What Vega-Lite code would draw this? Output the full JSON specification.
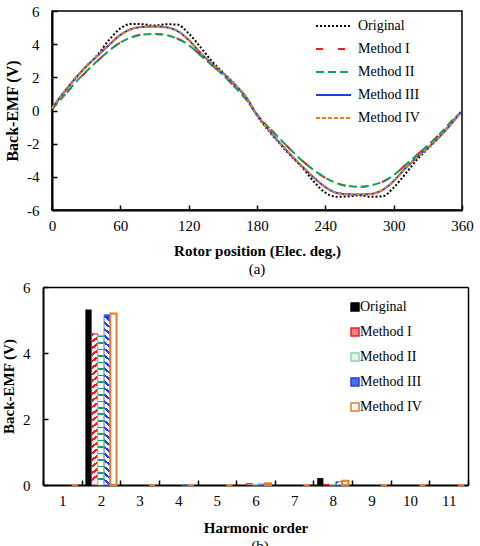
{
  "$schema": "https://vega.github.io/schema/vega-lite/v6.json",
  "padding": {"left": 1, "top": 3, "right": 0, "bottom": 0},
  "datasets": {
    "emf": [
      {"deg": 0, "s": "Original", "v": 0.1}, {"deg": 10, "s": "Original", "v": 1.05}, {"deg": 20, "s": "Original", "v": 1.9}, {"deg": 30, "s": "Original", "v": 2.65}, {"deg": 40, "s": "Original", "v": 3.35}, {"deg": 50, "s": "Original", "v": 4.25}, {"deg": 60, "s": "Original", "v": 4.95}, {"deg": 70, "s": "Original", "v": 5.22}, {"deg": 80, "s": "Original", "v": 5.2}, {"deg": 90, "s": "Original", "v": 5.12}, {"deg": 100, "s": "Original", "v": 5.2}, {"deg": 110, "s": "Original", "v": 5.18}, {"deg": 120, "s": "Original", "v": 4.65}, {"deg": 130, "s": "Original", "v": 3.85}, {"deg": 140, "s": "Original", "v": 3.0}, {"deg": 150, "s": "Original", "v": 2.3}, {"deg": 160, "s": "Original", "v": 1.6}, {"deg": 170, "s": "Original", "v": 0.8}, {"deg": 180, "s": "Original", "v": -0.3}, {"deg": 190, "s": "Original", "v": -1.2}, {"deg": 200, "s": "Original", "v": -2.0}, {"deg": 210, "s": "Original", "v": -2.75}, {"deg": 220, "s": "Original", "v": -3.45}, {"deg": 230, "s": "Original", "v": -4.3}, {"deg": 240, "s": "Original", "v": -4.95}, {"deg": 250, "s": "Original", "v": -5.2}, {"deg": 260, "s": "Original", "v": -5.18}, {"deg": 270, "s": "Original", "v": -5.12}, {"deg": 280, "s": "Original", "v": -5.2}, {"deg": 290, "s": "Original", "v": -5.18}, {"deg": 300, "s": "Original", "v": -4.65}, {"deg": 310, "s": "Original", "v": -3.85}, {"deg": 320, "s": "Original", "v": -3.0}, {"deg": 330, "s": "Original", "v": -2.3}, {"deg": 340, "s": "Original", "v": -1.6}, {"deg": 350, "s": "Original", "v": -0.8}, {"deg": 359, "s": "Original", "v": -0.1},
      {"deg": 0, "s": "Method I", "v": 0.1}, {"deg": 10, "s": "Method I", "v": 0.83}, {"deg": 20, "s": "Method I", "v": 1.63}, {"deg": 30, "s": "Method I", "v": 2.34}, {"deg": 40, "s": "Method I", "v": 3.0}, {"deg": 50, "s": "Method I", "v": 3.6}, {"deg": 60, "s": "Method I", "v": 4.1}, {"deg": 70, "s": "Method I", "v": 4.43}, {"deg": 80, "s": "Method I", "v": 4.59}, {"deg": 90, "s": "Method I", "v": 4.62}, {"deg": 100, "s": "Method I", "v": 4.56}, {"deg": 110, "s": "Method I", "v": 4.34}, {"deg": 120, "s": "Method I", "v": 3.96}, {"deg": 130, "s": "Method I", "v": 3.36}, {"deg": 140, "s": "Method I", "v": 2.76}, {"deg": 150, "s": "Method I", "v": 2.16}, {"deg": 160, "s": "Method I", "v": 1.46}, {"deg": 170, "s": "Method I", "v": 0.71}, {"deg": 180, "s": "Method I", "v": -0.24}, {"deg": 190, "s": "Method I", "v": -1.0}, {"deg": 200, "s": "Method I", "v": -1.7}, {"deg": 210, "s": "Method I", "v": -2.4}, {"deg": 220, "s": "Method I", "v": -3.05}, {"deg": 230, "s": "Method I", "v": -3.6}, {"deg": 240, "s": "Method I", "v": -4.06}, {"deg": 250, "s": "Method I", "v": -4.39}, {"deg": 260, "s": "Method I", "v": -4.56}, {"deg": 270, "s": "Method I", "v": -4.6}, {"deg": 280, "s": "Method I", "v": -4.53}, {"deg": 290, "s": "Method I", "v": -4.31}, {"deg": 300, "s": "Method I", "v": -3.9}, {"deg": 310, "s": "Method I", "v": -3.3}, {"deg": 320, "s": "Method I", "v": -2.7}, {"deg": 330, "s": "Method I", "v": -2.1}, {"deg": 340, "s": "Method I", "v": -1.45}, {"deg": 350, "s": "Method I", "v": -0.7}, {"deg": 359, "s": "Method I", "v": -0.1},
      {"deg": 0, "s": "Method II", "v": 0.1}, {"deg": 10, "s": "Method II", "v": 0.85}, {"deg": 20, "s": "Method II", "v": 1.65}, {"deg": 30, "s": "Method II", "v": 2.35}, {"deg": 40, "s": "Method II", "v": 3.0}, {"deg": 50, "s": "Method II", "v": 3.6}, {"deg": 60, "s": "Method II", "v": 4.1}, {"deg": 70, "s": "Method II", "v": 4.42}, {"deg": 80, "s": "Method II", "v": 4.58}, {"deg": 90, "s": "Method II", "v": 4.62}, {"deg": 100, "s": "Method II", "v": 4.55}, {"deg": 110, "s": "Method II", "v": 4.33}, {"deg": 120, "s": "Method II", "v": 3.95}, {"deg": 130, "s": "Method II", "v": 3.35}, {"deg": 140, "s": "Method II", "v": 2.75}, {"deg": 150, "s": "Method II", "v": 2.15}, {"deg": 160, "s": "Method II", "v": 1.45}, {"deg": 170, "s": "Method II", "v": 0.7}, {"deg": 180, "s": "Method II", "v": -0.25}, {"deg": 190, "s": "Method II", "v": -1.0}, {"deg": 200, "s": "Method II", "v": -1.7}, {"deg": 210, "s": "Method II", "v": -2.4}, {"deg": 220, "s": "Method II", "v": -3.05}, {"deg": 230, "s": "Method II", "v": -3.6}, {"deg": 240, "s": "Method II", "v": -4.05}, {"deg": 250, "s": "Method II", "v": -4.38}, {"deg": 260, "s": "Method II", "v": -4.55}, {"deg": 270, "s": "Method II", "v": -4.6}, {"deg": 280, "s": "Method II", "v": -4.52}, {"deg": 290, "s": "Method II", "v": -4.3}, {"deg": 300, "s": "Method II", "v": -3.9}, {"deg": 310, "s": "Method II", "v": -3.3}, {"deg": 320, "s": "Method II", "v": -2.7}, {"deg": 330, "s": "Method II", "v": -2.1}, {"deg": 340, "s": "Method II", "v": -1.45}, {"deg": 350, "s": "Method II", "v": -0.7}, {"deg": 359, "s": "Method II", "v": -0.1},
      {"deg": 0, "s": "Method III", "v": 0.15}, {"deg": 10, "s": "Method III", "v": 1.05}, {"deg": 20, "s": "Method III", "v": 1.9}, {"deg": 30, "s": "Method III", "v": 2.65}, {"deg": 40, "s": "Method III", "v": 3.3}, {"deg": 50, "s": "Method III", "v": 3.95}, {"deg": 60, "s": "Method III", "v": 4.55}, {"deg": 70, "s": "Method III", "v": 4.92}, {"deg": 80, "s": "Method III", "v": 5.04}, {"deg": 90, "s": "Method III", "v": 5.07}, {"deg": 100, "s": "Method III", "v": 5.02}, {"deg": 110, "s": "Method III", "v": 4.8}, {"deg": 120, "s": "Method III", "v": 4.25}, {"deg": 130, "s": "Method III", "v": 3.5}, {"deg": 140, "s": "Method III", "v": 2.85}, {"deg": 150, "s": "Method III", "v": 2.25}, {"deg": 160, "s": "Method III", "v": 1.6}, {"deg": 170, "s": "Method III", "v": 0.85}, {"deg": 180, "s": "Method III", "v": -0.25}, {"deg": 190, "s": "Method III", "v": -1.15}, {"deg": 200, "s": "Method III", "v": -1.95}, {"deg": 210, "s": "Method III", "v": -2.7}, {"deg": 220, "s": "Method III", "v": -3.4}, {"deg": 230, "s": "Method III", "v": -4.05}, {"deg": 240, "s": "Method III", "v": -4.62}, {"deg": 250, "s": "Method III", "v": -4.97}, {"deg": 260, "s": "Method III", "v": -5.05}, {"deg": 270, "s": "Method III", "v": -5.07}, {"deg": 280, "s": "Method III", "v": -5.03}, {"deg": 290, "s": "Method III", "v": -4.8}, {"deg": 300, "s": "Method III", "v": -4.25}, {"deg": 310, "s": "Method III", "v": -3.5}, {"deg": 320, "s": "Method III", "v": -2.85}, {"deg": 330, "s": "Method III", "v": -2.25}, {"deg": 340, "s": "Method III", "v": -1.6}, {"deg": 350, "s": "Method III", "v": -0.85}, {"deg": 359, "s": "Method III", "v": -0.1},
      {"deg": 0, "s": "Method IV", "v": 0.15}, {"deg": 10, "s": "Method IV", "v": 1.07}, {"deg": 20, "s": "Method IV", "v": 1.92}, {"deg": 30, "s": "Method IV", "v": 2.66}, {"deg": 40, "s": "Method IV", "v": 3.32}, {"deg": 50, "s": "Method IV", "v": 3.97}, {"deg": 60, "s": "Method IV", "v": 4.56}, {"deg": 70, "s": "Method IV", "v": 4.93}, {"deg": 80, "s": "Method IV", "v": 5.05}, {"deg": 90, "s": "Method IV", "v": 5.08}, {"deg": 100, "s": "Method IV", "v": 5.03}, {"deg": 110, "s": "Method IV", "v": 4.81}, {"deg": 120, "s": "Method IV", "v": 4.27}, {"deg": 130, "s": "Method IV", "v": 3.52}, {"deg": 140, "s": "Method IV", "v": 2.86}, {"deg": 150, "s": "Method IV", "v": 2.26}, {"deg": 160, "s": "Method IV", "v": 1.61}, {"deg": 170, "s": "Method IV", "v": 0.86}, {"deg": 180, "s": "Method IV", "v": -0.24}, {"deg": 190, "s": "Method IV", "v": -1.14}, {"deg": 200, "s": "Method IV", "v": -1.94}, {"deg": 210, "s": "Method IV", "v": -2.69}, {"deg": 220, "s": "Method IV", "v": -3.39}, {"deg": 230, "s": "Method IV", "v": -4.04}, {"deg": 240, "s": "Method IV", "v": -4.61}, {"deg": 250, "s": "Method IV", "v": -4.96}, {"deg": 260, "s": "Method IV", "v": -5.05}, {"deg": 270, "s": "Method IV", "v": -5.07}, {"deg": 280, "s": "Method IV", "v": -5.03}, {"deg": 290, "s": "Method IV", "v": -4.8}, {"deg": 300, "s": "Method IV", "v": -4.26}, {"deg": 310, "s": "Method IV", "v": -3.51}, {"deg": 320, "s": "Method IV", "v": -2.86}, {"deg": 330, "s": "Method IV", "v": -2.26}, {"deg": 340, "s": "Method IV", "v": -1.61}, {"deg": 350, "s": "Method IV", "v": -0.86}, {"deg": 359, "s": "Method IV", "v": -0.12}
    ],
    "harm": [
      {"h": 1, "m": "Original", "v": 0}, {"h": 1, "m": "Method I", "v": 0}, {"h": 1, "m": "Method II", "v": 0}, {"h": 1, "m": "Method III", "v": 0}, {"h": 1, "m": "Method IV", "v": 0},
      {"h": 2, "m": "Original", "v": 5.32}, {"h": 2, "m": "Method I", "v": 4.58}, {"h": 2, "m": "Method II", "v": 4.53}, {"h": 2, "m": "Method III", "v": 5.16}, {"h": 2, "m": "Method IV", "v": 5.2},
      {"h": 3, "m": "Original", "v": 0}, {"h": 3, "m": "Method I", "v": 0}, {"h": 3, "m": "Method II", "v": 0}, {"h": 3, "m": "Method III", "v": 0}, {"h": 3, "m": "Method IV", "v": 0},
      {"h": 4, "m": "Original", "v": 0}, {"h": 4, "m": "Method I", "v": 0}, {"h": 4, "m": "Method II", "v": 0}, {"h": 4, "m": "Method III", "v": 0.01}, {"h": 4, "m": "Method IV", "v": 0},
      {"h": 5, "m": "Original", "v": 0}, {"h": 5, "m": "Method I", "v": 0}, {"h": 5, "m": "Method II", "v": 0}, {"h": 5, "m": "Method III", "v": 0}, {"h": 5, "m": "Method IV", "v": 0},
      {"h": 6, "m": "Original", "v": 0}, {"h": 6, "m": "Method I", "v": 0.04}, {"h": 6, "m": "Method II", "v": 0.02}, {"h": 6, "m": "Method III", "v": 0.03}, {"h": 6, "m": "Method IV", "v": 0.05},
      {"h": 7, "m": "Original", "v": 0}, {"h": 7, "m": "Method I", "v": 0}, {"h": 7, "m": "Method II", "v": 0}, {"h": 7, "m": "Method III", "v": 0}, {"h": 7, "m": "Method IV", "v": 0},
      {"h": 8, "m": "Original", "v": 0.21}, {"h": 8, "m": "Method I", "v": 0.02}, {"h": 8, "m": "Method II", "v": 0.02}, {"h": 8, "m": "Method III", "v": 0.1}, {"h": 8, "m": "Method IV", "v": 0.13},
      {"h": 9, "m": "Original", "v": 0}, {"h": 9, "m": "Method I", "v": 0}, {"h": 9, "m": "Method II", "v": 0}, {"h": 9, "m": "Method III", "v": 0}, {"h": 9, "m": "Method IV", "v": 0},
      {"h": 10, "m": "Original", "v": 0}, {"h": 10, "m": "Method I", "v": 0}, {"h": 10, "m": "Method II", "v": 0}, {"h": 10, "m": "Method III", "v": 0}, {"h": 10, "m": "Method IV", "v": 0},
      {"h": 11, "m": "Original", "v": 0}, {"h": 11, "m": "Method I", "v": 0}, {"h": 11, "m": "Method II", "v": 0}, {"h": 11, "m": "Method III", "v": 0}, {"h": 11, "m": "Method IV", "v": 0}
    ]
  },
  "vconcat": [
    {
      "width": 410,
      "height": 199,
      "data": {"name": "emf"},
      "title": {"text": "(a)", "orient": "bottom", "offset": 4},
      "mark": {"type": "line", "strokeWidth": 2, "interpolate": "monotone"},
      "encoding": {
        "x": {"field": "deg", "type": "quantitative", "scale": {"domain": [0, 360], "nice": false}, "axis": {"values": [0, 60, 120, 180, 240, 300, 360], "title": "Rotor position (Elec. deg.)", "titlePadding": 10}},
        "y": {"field": "v", "type": "quantitative", "scale": {"domain": [-6, 6], "nice": false}, "axis": {"values": [-6, -4, -2, 0, 2, 4, 6], "labelExpr": "'' + datum.value", "labelPadding": 18, "title": "Back-EMF (V)", "titleFontSize": 16, "titlePadding": 6}},
        "color": {"field": "s", "type": "nominal", "scale": {"domain": ["Original", "Method I", "Method II", "Method III", "Method IV"], "range": ["#000000", "#ee1c25", "#13a055", "#1f3fe0", "#e57c28"]}, "legend": {"title": null, "orient": "none", "legendX": 263, "legendY": 7, "symbolType": "M-1,0H4", "symbolSize": 196, "symbolStrokeWidth": 2, "rowPadding": 8, "labelOffset": 27}},
        "strokeDash": {"field": "s", "type": "nominal", "scale": {"domain": ["Original", "Method I", "Method II", "Method III", "Method IV"], "range": [[2, 2], [7, 15], [8, 4], [1, 0], [4, 2]]}, "legend": {"title": null, "orient": "none", "legendX": 263, "legendY": 7, "symbolType": "M-1,0H4", "symbolSize": 196, "symbolStrokeWidth": 2, "rowPadding": 8, "labelOffset": 27}}
      }
    },
    {
      "width": 416,
      "height": 198,
      "view": {"stroke": null},
      "data": {"name": "harm"},
      "title": {"text": "(b)", "orient": "bottom", "offset": 4},
      "encoding": {
        "x": {"field": "h", "type": "ordinal", "scale": {"range": [-9, 416], "paddingInner": 0, "paddingOuter": 0}, "axis": {"title": "Harmonic order", "labelAngle": 0, "tickBand": "extent", "titlePadding": 12}},
        "y": {"field": "v", "type": "quantitative", "scale": {"domain": [0, 6], "nice": false}, "axis": {"values": [0, 2, 4, 6], "labelPadding": 18, "title": "Back-EMF (V)", "titlePadding": 6, "offset": 9}}
      },
      "layer": [
        {
          "mark": {"type": "bar"},
          "encoding": {
            "xOffset": {"field": "m", "type": "nominal", "scale": {"domain": ["Original", "Method I", "Method II", "Method III", "Method IV"], "paddingInner": 0, "paddingOuter": 0.6}},
            "fill": {
              "condition": [
                {"test": "datum.m === 'Original'", "value": "#000000"},
                {"test": "datum.m === 'Method I'", "value": {"gradient": "linear", "x1": 0, "y1": 0, "x2": 0.03, "y2": 1, "stops": [
                  {"offset": 0, "color": "#ee1c25"}, {"offset": 0.0174, "color": "#ee1c25"}, {"offset": 0.0174, "color": "#ffffff"}, {"offset": 0.0435, "color": "#ffffff"},
                  {"offset": 0.0435, "color": "#ee1c25"}, {"offset": 0.0609, "color": "#ee1c25"}, {"offset": 0.0609, "color": "#ffffff"}, {"offset": 0.087, "color": "#ffffff"},
                  {"offset": 0.087, "color": "#ee1c25"}, {"offset": 0.1043, "color": "#ee1c25"}, {"offset": 0.1043, "color": "#ffffff"}, {"offset": 0.1304, "color": "#ffffff"},
                  {"offset": 0.1304, "color": "#ee1c25"}, {"offset": 0.1478, "color": "#ee1c25"}, {"offset": 0.1478, "color": "#ffffff"}, {"offset": 0.1739, "color": "#ffffff"},
                  {"offset": 0.1739, "color": "#ee1c25"}, {"offset": 0.1913, "color": "#ee1c25"}, {"offset": 0.1913, "color": "#ffffff"}, {"offset": 0.2174, "color": "#ffffff"},
                  {"offset": 0.2174, "color": "#ee1c25"}, {"offset": 0.2348, "color": "#ee1c25"}, {"offset": 0.2348, "color": "#ffffff"}, {"offset": 0.2609, "color": "#ffffff"},
                  {"offset": 0.2609, "color": "#ee1c25"}, {"offset": 0.2783, "color": "#ee1c25"}, {"offset": 0.2783, "color": "#ffffff"}, {"offset": 0.3043, "color": "#ffffff"},
                  {"offset": 0.3043, "color": "#ee1c25"}, {"offset": 0.3217, "color": "#ee1c25"}, {"offset": 0.3217, "color": "#ffffff"}, {"offset": 0.3478, "color": "#ffffff"},
                  {"offset": 0.3478, "color": "#ee1c25"}, {"offset": 0.3652, "color": "#ee1c25"}, {"offset": 0.3652, "color": "#ffffff"}, {"offset": 0.3913, "color": "#ffffff"},
                  {"offset": 0.3913, "color": "#ee1c25"}, {"offset": 0.4087, "color": "#ee1c25"}, {"offset": 0.4087, "color": "#ffffff"}, {"offset": 0.4348, "color": "#ffffff"},
                  {"offset": 0.4348, "color": "#ee1c25"}, {"offset": 0.4522, "color": "#ee1c25"}, {"offset": 0.4522, "color": "#ffffff"}, {"offset": 0.4783, "color": "#ffffff"},
                  {"offset": 0.4783, "color": "#ee1c25"}, {"offset": 0.4957, "color": "#ee1c25"}, {"offset": 0.4957, "color": "#ffffff"}, {"offset": 0.5217, "color": "#ffffff"},
                  {"offset": 0.5217, "color": "#ee1c25"}, {"offset": 0.5391, "color": "#ee1c25"}, {"offset": 0.5391, "color": "#ffffff"}, {"offset": 0.5652, "color": "#ffffff"},
                  {"offset": 0.5652, "color": "#ee1c25"}, {"offset": 0.5826, "color": "#ee1c25"}, {"offset": 0.5826, "color": "#ffffff"}, {"offset": 0.6087, "color": "#ffffff"},
                  {"offset": 0.6087, "color": "#ee1c25"}, {"offset": 0.6261, "color": "#ee1c25"}, {"offset": 0.6261, "color": "#ffffff"}, {"offset": 0.6522, "color": "#ffffff"},
                  {"offset": 0.6522, "color": "#ee1c25"}, {"offset": 0.6696, "color": "#ee1c25"}, {"offset": 0.6696, "color": "#ffffff"}, {"offset": 0.6957, "color": "#ffffff"},
                  {"offset": 0.6957, "color": "#ee1c25"}, {"offset": 0.713, "color": "#ee1c25"}, {"offset": 0.713, "color": "#ffffff"}, {"offset": 0.7391, "color": "#ffffff"},
                  {"offset": 0.7391, "color": "#ee1c25"}, {"offset": 0.7565, "color": "#ee1c25"}, {"offset": 0.7565, "color": "#ffffff"}, {"offset": 0.7826, "color": "#ffffff"},
                  {"offset": 0.7826, "color": "#ee1c25"}, {"offset": 0.8, "color": "#ee1c25"}, {"offset": 0.8, "color": "#ffffff"}, {"offset": 0.8261, "color": "#ffffff"},
                  {"offset": 0.8261, "color": "#ee1c25"}, {"offset": 0.8435, "color": "#ee1c25"}, {"offset": 0.8435, "color": "#ffffff"}, {"offset": 0.8696, "color": "#ffffff"},
                  {"offset": 0.8696, "color": "#ee1c25"}, {"offset": 0.887, "color": "#ee1c25"}, {"offset": 0.887, "color": "#ffffff"}, {"offset": 0.913, "color": "#ffffff"},
                  {"offset": 0.913, "color": "#ee1c25"}, {"offset": 0.9304, "color": "#ee1c25"}, {"offset": 0.9304, "color": "#ffffff"}, {"offset": 0.9565, "color": "#ffffff"},
                  {"offset": 0.9565, "color": "#ee1c25"}, {"offset": 0.9739, "color": "#ee1c25"}, {"offset": 0.9739, "color": "#ffffff"}, {"offset": 1, "color": "#ffffff"}
                ]}},
                {"test": "datum.m === 'Method II'", "value": {"gradient": "linear", "x1": 0, "y1": 0, "x2": 0, "y2": 1, "stops": [
                  {"offset": 0, "color": "#13a055"}, {"offset": 0.0109, "color": "#13a055"}, {"offset": 0.0109, "color": "#ffffff"}, {"offset": 0.0435, "color": "#ffffff"},
                  {"offset": 0.0435, "color": "#13a055"}, {"offset": 0.0543, "color": "#13a055"}, {"offset": 0.0543, "color": "#ffffff"}, {"offset": 0.087, "color": "#ffffff"},
                  {"offset": 0.087, "color": "#13a055"}, {"offset": 0.0978, "color": "#13a055"}, {"offset": 0.0978, "color": "#ffffff"}, {"offset": 0.1304, "color": "#ffffff"},
                  {"offset": 0.1304, "color": "#13a055"}, {"offset": 0.1413, "color": "#13a055"}, {"offset": 0.1413, "color": "#ffffff"}, {"offset": 0.1739, "color": "#ffffff"},
                  {"offset": 0.1739, "color": "#13a055"}, {"offset": 0.1848, "color": "#13a055"}, {"offset": 0.1848, "color": "#ffffff"}, {"offset": 0.2174, "color": "#ffffff"},
                  {"offset": 0.2174, "color": "#13a055"}, {"offset": 0.2283, "color": "#13a055"}, {"offset": 0.2283, "color": "#ffffff"}, {"offset": 0.2609, "color": "#ffffff"},
                  {"offset": 0.2609, "color": "#13a055"}, {"offset": 0.2717, "color": "#13a055"}, {"offset": 0.2717, "color": "#ffffff"}, {"offset": 0.3043, "color": "#ffffff"},
                  {"offset": 0.3043, "color": "#13a055"}, {"offset": 0.3152, "color": "#13a055"}, {"offset": 0.3152, "color": "#ffffff"}, {"offset": 0.3478, "color": "#ffffff"},
                  {"offset": 0.3478, "color": "#13a055"}, {"offset": 0.3587, "color": "#13a055"}, {"offset": 0.3587, "color": "#ffffff"}, {"offset": 0.3913, "color": "#ffffff"},
                  {"offset": 0.3913, "color": "#13a055"}, {"offset": 0.4022, "color": "#13a055"}, {"offset": 0.4022, "color": "#ffffff"}, {"offset": 0.4348, "color": "#ffffff"},
                  {"offset": 0.4348, "color": "#13a055"}, {"offset": 0.4457, "color": "#13a055"}, {"offset": 0.4457, "color": "#ffffff"}, {"offset": 0.4783, "color": "#ffffff"},
                  {"offset": 0.4783, "color": "#13a055"}, {"offset": 0.4891, "color": "#13a055"}, {"offset": 0.4891, "color": "#ffffff"}, {"offset": 0.5217, "color": "#ffffff"},
                  {"offset": 0.5217, "color": "#13a055"}, {"offset": 0.5326, "color": "#13a055"}, {"offset": 0.5326, "color": "#ffffff"}, {"offset": 0.5652, "color": "#ffffff"},
                  {"offset": 0.5652, "color": "#13a055"}, {"offset": 0.5761, "color": "#13a055"}, {"offset": 0.5761, "color": "#ffffff"}, {"offset": 0.6087, "color": "#ffffff"},
                  {"offset": 0.6087, "color": "#13a055"}, {"offset": 0.6196, "color": "#13a055"}, {"offset": 0.6196, "color": "#ffffff"}, {"offset": 0.6522, "color": "#ffffff"},
                  {"offset": 0.6522, "color": "#13a055"}, {"offset": 0.663, "color": "#13a055"}, {"offset": 0.663, "color": "#ffffff"}, {"offset": 0.6957, "color": "#ffffff"},
                  {"offset": 0.6957, "color": "#13a055"}, {"offset": 0.7065, "color": "#13a055"}, {"offset": 0.7065, "color": "#ffffff"}, {"offset": 0.7391, "color": "#ffffff"},
                  {"offset": 0.7391, "color": "#13a055"}, {"offset": 0.75, "color": "#13a055"}, {"offset": 0.75, "color": "#ffffff"}, {"offset": 0.7826, "color": "#ffffff"},
                  {"offset": 0.7826, "color": "#13a055"}, {"offset": 0.7935, "color": "#13a055"}, {"offset": 0.7935, "color": "#ffffff"}, {"offset": 0.8261, "color": "#ffffff"},
                  {"offset": 0.8261, "color": "#13a055"}, {"offset": 0.837, "color": "#13a055"}, {"offset": 0.837, "color": "#ffffff"}, {"offset": 0.8696, "color": "#ffffff"},
                  {"offset": 0.8696, "color": "#13a055"}, {"offset": 0.8804, "color": "#13a055"}, {"offset": 0.8804, "color": "#ffffff"}, {"offset": 0.913, "color": "#ffffff"},
                  {"offset": 0.913, "color": "#13a055"}, {"offset": 0.9239, "color": "#13a055"}, {"offset": 0.9239, "color": "#ffffff"}, {"offset": 0.9565, "color": "#ffffff"},
                  {"offset": 0.9565, "color": "#13a055"}, {"offset": 0.9674, "color": "#13a055"}, {"offset": 0.9674, "color": "#ffffff"}, {"offset": 1, "color": "#ffffff"}
                ]}},
                {"test": "datum.m === 'Method III'", "value": {"gradient": "linear", "x1": 0.03, "y1": 0, "x2": 0, "y2": 1, "stops": [
                  {"offset": 0, "color": "#1f3fe0"}, {"offset": 0.0154, "color": "#1f3fe0"}, {"offset": 0.0154, "color": "#ffffff"}, {"offset": 0.0385, "color": "#ffffff"},
                  {"offset": 0.0385, "color": "#1f3fe0"}, {"offset": 0.0538, "color": "#1f3fe0"}, {"offset": 0.0538, "color": "#ffffff"}, {"offset": 0.0769, "color": "#ffffff"},
                  {"offset": 0.0769, "color": "#1f3fe0"}, {"offset": 0.0923, "color": "#1f3fe0"}, {"offset": 0.0923, "color": "#ffffff"}, {"offset": 0.1154, "color": "#ffffff"},
                  {"offset": 0.1154, "color": "#1f3fe0"}, {"offset": 0.1308, "color": "#1f3fe0"}, {"offset": 0.1308, "color": "#ffffff"}, {"offset": 0.1538, "color": "#ffffff"},
                  {"offset": 0.1538, "color": "#1f3fe0"}, {"offset": 0.1692, "color": "#1f3fe0"}, {"offset": 0.1692, "color": "#ffffff"}, {"offset": 0.1923, "color": "#ffffff"},
                  {"offset": 0.1923, "color": "#1f3fe0"}, {"offset": 0.2077, "color": "#1f3fe0"}, {"offset": 0.2077, "color": "#ffffff"}, {"offset": 0.2308, "color": "#ffffff"},
                  {"offset": 0.2308, "color": "#1f3fe0"}, {"offset": 0.2462, "color": "#1f3fe0"}, {"offset": 0.2462, "color": "#ffffff"}, {"offset": 0.2692, "color": "#ffffff"},
                  {"offset": 0.2692, "color": "#1f3fe0"}, {"offset": 0.2846, "color": "#1f3fe0"}, {"offset": 0.2846, "color": "#ffffff"}, {"offset": 0.3077, "color": "#ffffff"},
                  {"offset": 0.3077, "color": "#1f3fe0"}, {"offset": 0.3231, "color": "#1f3fe0"}, {"offset": 0.3231, "color": "#ffffff"}, {"offset": 0.3462, "color": "#ffffff"},
                  {"offset": 0.3462, "color": "#1f3fe0"}, {"offset": 0.3615, "color": "#1f3fe0"}, {"offset": 0.3615, "color": "#ffffff"}, {"offset": 0.3846, "color": "#ffffff"},
                  {"offset": 0.3846, "color": "#1f3fe0"}, {"offset": 0.4, "color": "#1f3fe0"}, {"offset": 0.4, "color": "#ffffff"}, {"offset": 0.4231, "color": "#ffffff"},
                  {"offset": 0.4231, "color": "#1f3fe0"}, {"offset": 0.4385, "color": "#1f3fe0"}, {"offset": 0.4385, "color": "#ffffff"}, {"offset": 0.4615, "color": "#ffffff"},
                  {"offset": 0.4615, "color": "#1f3fe0"}, {"offset": 0.4769, "color": "#1f3fe0"}, {"offset": 0.4769, "color": "#ffffff"}, {"offset": 0.5, "color": "#ffffff"},
                  {"offset": 0.5, "color": "#1f3fe0"}, {"offset": 0.5154, "color": "#1f3fe0"}, {"offset": 0.5154, "color": "#ffffff"}, {"offset": 0.5385, "color": "#ffffff"},
                  {"offset": 0.5385, "color": "#1f3fe0"}, {"offset": 0.5538, "color": "#1f3fe0"}, {"offset": 0.5538, "color": "#ffffff"}, {"offset": 0.5769, "color": "#ffffff"},
                  {"offset": 0.5769, "color": "#1f3fe0"}, {"offset": 0.5923, "color": "#1f3fe0"}, {"offset": 0.5923, "color": "#ffffff"}, {"offset": 0.6154, "color": "#ffffff"},
                  {"offset": 0.6154, "color": "#1f3fe0"}, {"offset": 0.6308, "color": "#1f3fe0"}, {"offset": 0.6308, "color": "#ffffff"}, {"offset": 0.6538, "color": "#ffffff"},
                  {"offset": 0.6538, "color": "#1f3fe0"}, {"offset": 0.6692, "color": "#1f3fe0"}, {"offset": 0.6692, "color": "#ffffff"}, {"offset": 0.6923, "color": "#ffffff"},
                  {"offset": 0.6923, "color": "#1f3fe0"}, {"offset": 0.7077, "color": "#1f3fe0"}, {"offset": 0.7077, "color": "#ffffff"}, {"offset": 0.7308, "color": "#ffffff"},
                  {"offset": 0.7308, "color": "#1f3fe0"}, {"offset": 0.7462, "color": "#1f3fe0"}, {"offset": 0.7462, "color": "#ffffff"}, {"offset": 0.7692, "color": "#ffffff"},
                  {"offset": 0.7692, "color": "#1f3fe0"}, {"offset": 0.7846, "color": "#1f3fe0"}, {"offset": 0.7846, "color": "#ffffff"}, {"offset": 0.8077, "color": "#ffffff"},
                  {"offset": 0.8077, "color": "#1f3fe0"}, {"offset": 0.8231, "color": "#1f3fe0"}, {"offset": 0.8231, "color": "#ffffff"}, {"offset": 0.8462, "color": "#ffffff"},
                  {"offset": 0.8462, "color": "#1f3fe0"}, {"offset": 0.8615, "color": "#1f3fe0"}, {"offset": 0.8615, "color": "#ffffff"}, {"offset": 0.8846, "color": "#ffffff"},
                  {"offset": 0.8846, "color": "#1f3fe0"}, {"offset": 0.9, "color": "#1f3fe0"}, {"offset": 0.9, "color": "#ffffff"}, {"offset": 0.9231, "color": "#ffffff"},
                  {"offset": 0.9231, "color": "#1f3fe0"}, {"offset": 0.9385, "color": "#1f3fe0"}, {"offset": 0.9385, "color": "#ffffff"}, {"offset": 0.9615, "color": "#ffffff"},
                  {"offset": 0.9615, "color": "#1f3fe0"}, {"offset": 0.9769, "color": "#1f3fe0"}, {"offset": 0.9769, "color": "#ffffff"}, {"offset": 1, "color": "#ffffff"}
                ]}}
              ],
              "value": "#ffffff"
            },
            "stroke": {
              "condition": [
                {"test": "datum.m === 'Method I'", "value": "#ee1c25"},
                {"test": "datum.m === 'Method II'", "value": "#8fd3ad"},
                {"test": "datum.m === 'Method III'", "value": "#5b7bea"},
                {"test": "datum.m === 'Method IV'", "value": "#e57c28"}
              ],
              "value": "#000000"
            },
            "strokeWidth": {"condition": [{"test": "datum.m === 'Method IV'", "value": 2}, {"test": "datum.v > 0 && datum.m !== 'Original'", "value": 1}], "value": 0}
          }
        },
        {
          "mark": {"type": "square", "opacity": 0, "size": 64},
          "encoding": {
            "x": {"field": "h", "type": "ordinal", "axis": {"orient": "top", "labels": false, "ticks": false, "title": null, "domainWidth": 1.5}},
            "y": {"field": "v", "type": "quantitative", "axis": {"orient": "right", "labels": false, "ticks": false, "title": null, "domainWidth": 1.5}},
            "color": {"field": "m", "type": "nominal", "scale": {"domain": ["Original", "Method I", "Method II", "Method III", "Method IV"], "range": ["#000000", "#f47f84", "#e3f4ea", "#4d6ceb", "#ffffff"]}, "legend": {"title": null, "orient": "none", "legendX": 296, "legendY": 13, "symbolType": "square", "symbolSize": 64, "symbolStrokeWidth": 1.5, "symbolOpacity": 1, "rowPadding": 11, "labelOffset": -2, "encode": {"symbols": {"update": {"opacity": {"value": 1}, "strokeWidth": {"value": 1.5}, "stroke": {"signal": "datum.value === 'Original' ? '#000000' : datum.value === 'Method I' ? '#ee1c25' : datum.value === 'Method II' ? '#8fd3ad' : datum.value === 'Method III' ? '#1f3fe0' : '#e57c28'"}}}}}}
          }
        }
      ],
      "resolve": {"axis": {"x": "independent", "y": "independent"}}
    }
  ],
  "resolve": {"scale": {"color": "independent", "strokeDash": "independent"}, "legend": {"color": "independent", "strokeDash": "independent"}},
  "spacing": 2,
  "config": {
    "font": "Liberation Serif",
    "view": {"stroke": "#000000", "strokeWidth": 1.5},
    "axis": {"grid": false, "domainColor": "#000000", "domainWidth": 2, "tickColor": "#000000", "tickWidth": 1.5, "tickSize": -5, "labelFont": "Liberation Serif", "labelFontSize": 15, "labelColor": "#000000", "labelPadding": 13, "labelFlush": false, "titleFont": "Liberation Serif", "titleFontSize": 15, "titleFontWeight": "bold", "titleColor": "#000000"},
    "legend": {"labelFont": "Liberation Serif", "labelFontSize": 14, "labelColor": "#000000", "padding": 0},
    "title": {"font": "Liberation Serif", "fontSize": 15, "fontWeight": "normal", "color": "#000000"}
  }
}
